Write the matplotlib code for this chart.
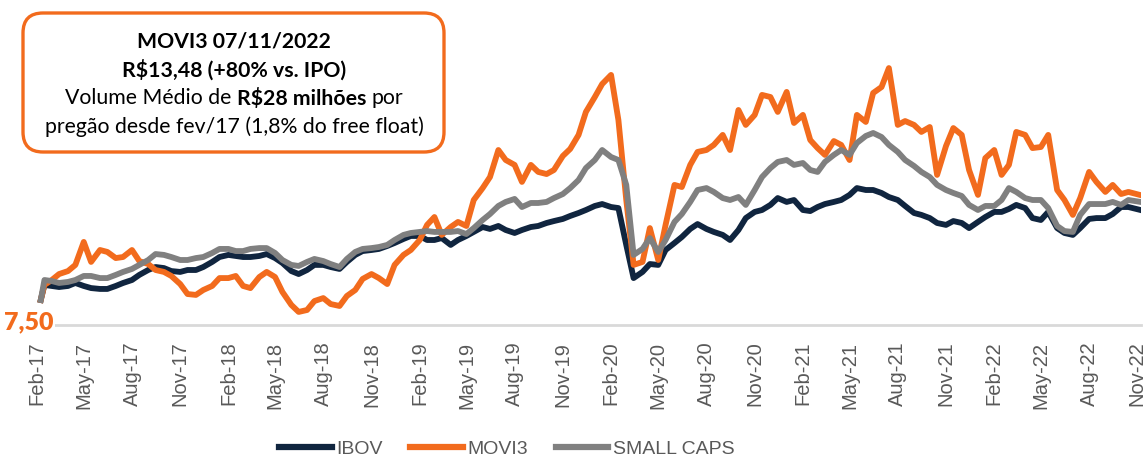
import numpy as np
import pandas as pd
import matplotlib
matplotlib.use("Agg")
import matplotlib.pyplot as plt
import matplotlib.dates as mdates
from matplotlib.patches import FancyBboxPatch

plt.rcParams["font.family"] = ["Liberation Sans", "DejaVu Sans"]

# datas: IPO (08/02/2017), quinzenal, e ultimo pregao (07/11/2022)
dates = (
    pd.DatetimeIndex(["2017-02-08"])
    .append(pd.date_range("2017-02-15", "2022-10-15", freq="SMS"))
    .append(pd.DatetimeIndex(["2022-11-07"]))
)

# IBOV rebaseado ao preco do IPO (R$)
ibov = [
    7.50, 8.36, 8.30, 8.24, 8.30, 8.47, 8.30, 8.18, 8.13, 8.13,
    8.30, 8.47, 8.64, 8.93, 9.21, 9.38, 9.32, 9.15, 9.10, 9.21,
    9.21, 9.38, 9.67, 9.95, 10.07, 10.01, 9.95, 9.95, 10.01, 10.12,
    9.89, 9.61, 9.15, 8.98, 9.21, 9.50, 9.50, 9.38, 9.27, 9.67,
    10.07, 10.29, 10.35, 10.41, 10.58, 10.75, 10.98, 11.15, 11.15, 10.92,
    10.92, 11.03, 10.64, 10.92, 11.15, 11.38, 11.66, 11.55, 11.72, 11.49,
    11.32, 11.49, 11.66, 11.72, 11.89, 12.00, 12.12, 12.29, 12.46, 12.63,
    12.86, 12.97, 12.80, 12.74, 10.64, 8.75, 9.10, 9.55, 9.50, 10.35,
    10.75, 11.09, 11.55, 11.83, 11.55, 11.38, 11.21, 10.92, 11.49, 12.17,
    12.52, 12.63, 12.92, 13.31, 13.09, 13.20, 12.63, 12.57, 12.80, 12.97,
    13.09, 13.20, 13.49, 13.88, 13.77, 13.77, 13.60, 13.37, 13.20, 12.86,
    12.46, 12.35, 12.17, 11.89, 11.78, 12.00, 11.89, 11.60, 11.95, 12.23,
    12.52, 12.52, 12.69, 12.92, 12.74, 12.17, 12.06, 12.52, 11.60, 11.32,
    11.21, 11.60, 12.12, 12.17, 12.17, 12.40, 12.80, 12.80, 12.63,
]

# MOVI3 (R$)
movi3 = [
    7.50, 8.36, 8.64, 8.98, 9.15, 9.50, 10.81, 9.67, 10.35, 10.24,
    9.89, 9.95, 10.35, 9.72, 9.55, 9.21, 9.10, 8.87, 8.41, 7.84,
    7.79, 8.07, 8.30, 8.75, 8.75, 8.87, 8.30, 8.18, 8.81, 9.10,
    8.81, 7.96, 7.22, 6.82, 6.93, 7.44, 7.61, 7.27, 7.16, 7.73,
    8.07, 8.70, 8.98, 8.75, 8.41, 9.50, 10.07, 10.35, 10.92, 11.78,
    12.23, 11.21, 11.66, 11.95, 11.72, 13.20, 13.88, 14.51, 16.05, 15.48,
    15.20, 14.23, 15.20, 14.80, 14.68, 14.91, 15.71, 16.11, 16.91, 18.22,
    19.07, 19.81, 20.33, 17.76, 13.20, 9.50, 9.67, 11.60, 9.78, 11.78,
    14.06, 13.94, 15.20, 15.94, 16.05, 16.34, 16.91, 16.05, 18.33, 17.48,
    18.05, 19.19, 19.07, 18.22, 19.36, 17.59, 18.05, 16.62, 16.16, 15.77,
    16.56, 16.34, 15.48, 18.05, 17.65, 19.30, 19.64, 20.72, 17.48, 17.70,
    17.48, 17.08, 17.36, 14.63, 16.28, 17.30, 16.91, 14.91, 13.49, 15.59,
    16.05, 14.63, 15.20, 17.08, 16.91, 16.16, 16.22, 16.91, 13.77, 13.20,
    12.35, 13.31, 14.80, 14.23, 13.66, 14.06, 13.54, 13.66, 13.48,
]

# SMALL CAPS rebaseado ao preco do IPO (R$)
small_caps = [
    7.50, 8.64, 8.58, 8.47, 8.53, 8.64, 8.87, 8.87, 8.75, 8.75,
    8.93, 9.10, 9.27, 9.50, 9.78, 10.12, 10.07, 9.95, 9.78, 9.78,
    9.89, 9.95, 10.18, 10.41, 10.41, 10.29, 10.29, 10.41, 10.46, 10.46,
    10.18, 9.78, 9.50, 9.44, 9.67, 9.84, 9.72, 9.55, 9.38, 9.84,
    10.24, 10.41, 10.46, 10.52, 10.64, 10.92, 11.21, 11.32, 11.38, 11.43,
    11.38, 11.38, 11.38, 11.43, 11.26, 11.60, 12.06, 12.40, 12.86, 13.09,
    13.26, 12.80, 13.03, 13.03, 13.09, 13.31, 13.54, 13.88, 14.34, 15.02,
    15.48, 16.05, 15.65, 15.48, 14.06, 10.07, 10.41, 11.03, 10.24, 10.92,
    11.95, 12.40, 13.09, 13.77, 13.88, 13.66, 13.31, 13.20, 13.37, 12.92,
    13.77, 14.51, 15.02, 15.37, 15.48, 15.20, 15.31, 14.91, 14.80, 15.37,
    15.77, 16.05, 15.77, 16.45, 16.85, 17.02, 16.79, 16.34, 15.94, 15.48,
    15.14, 14.80, 14.51, 14.06, 13.77, 13.60, 13.43, 12.92, 12.63, 12.86,
    12.86, 13.20, 13.88, 13.66, 13.31, 13.20, 13.20, 12.74, 11.72, 11.43,
    11.38, 12.35, 12.97, 12.97, 12.97, 13.09, 12.92, 13.20, 13.09,
]

series_names = ["IBOV", "MOVI3", "SMALL CAPS"]
colors = ["#10253F", "#F26B1D", "#808080"]

W, H = 1147, 459
fig = plt.figure(figsize=(W / 100, H / 100), dpi=100)
ax = fig.add_axes([35 / W, 1 - 325 / H, 1106 / W, 270 / H])

for vals, name, c in zip([ibov, movi3, small_caps], series_names, colors):
    ax.plot(dates, vals, color=c, lw=4.2, label=name, solid_joinstyle="round")

ax.set_ylim(6.075, 21.465)
ax.set_xlim(pd.Timestamp("2017-01-28"), pd.Timestamp("2022-11-08"))
ax.set_yticks([])
ax.xaxis.set_major_locator(mdates.MonthLocator(bymonth=[2, 5, 8, 11]))
ax.xaxis.set_major_formatter(mdates.DateFormatter("%b-%y"))
ax.tick_params(axis="x", length=0, pad=12, labelsize=14.5,
               labelcolor="#595959", labelrotation=90)
for s in ["left", "right", "top"]:
    ax.spines[s].set_visible(False)
ax.spines["bottom"].set_color("#D9D9D9")
ax.spines["bottom"].set_linewidth(2)

# rotulo do preco do IPO
fig.text(29 / W, 1 - 322 / H, "7,50", color="#F26B1D", fontsize=18,
         fontweight="heavy", family="Lato", ha="center", va="center",
         bbox=dict(facecolor="white", edgecolor="none", pad=0.5))

# legenda
leg = fig.legend(loc="center", bbox_to_anchor=(507 / W, 1 - 449 / H), ncol=3,
                 frameon=False, fontsize=14, handlelength=2.7,
                 handletextpad=0.25, columnspacing=1.4, labelcolor="#595959")
for line in leg.get_lines():
    line.set_linewidth(4.5)

# caixa com destaque
box = FancyBboxPatch((0.23, 3.07), 4.21, 1.39, boxstyle="round,pad=0,rounding_size=0.2",
                     transform=fig.dpi_scale_trans, facecolor="white",
                     edgecolor="#F26B1D", lw=2.4)
fig.patches.append(box)

renderer = fig.canvas.get_renderer()
box_fs = 15.3
box_cx = 2.34


def text_width(t):
    return t.get_window_extent(renderer).width / fig.dpi


sp = fig.text(0, 0, "a a", fontsize=box_fs, family="Lato", transform=fig.dpi_scale_trans)
sp2 = fig.text(0, 0, "aa", fontsize=box_fs, family="Lato", transform=fig.dpi_scale_trans)
space_w = text_width(sp) - text_width(sp2)
sp.remove()
sp2.remove()


def draw_line(parts, y):
    texts = []
    for s, w in parts:
        texts.append(fig.text(0, y, s, transform=fig.dpi_scale_trans, fontsize=box_fs,
                              fontweight=w, family="Lato", va="center", ha="left",
                              color="black"))
    widths = [text_width(t) for t in texts]
    total = sum(widths) + space_w * (len(texts) - 1)
    x = box_cx - total / 2
    for t, wd in zip(texts, widths):
        t.set_x(x)
        x += wd + space_w


draw_line([("MOVI3 07/11/2022", "bold")], (H - 42) / 100)
draw_line([("R$13,48 (+80% vs. IPO)", "bold")], (H - 70) / 100)
draw_line([("Volume Médio de", "normal"), ("R$28 milhões", "bold"), ("por", "normal")], (H - 98) / 100)
draw_line([("pregão desde fev/17 (1,8% do free float)", "normal")], (H - 127) / 100)

fig.savefig("out.png", dpi=100)
